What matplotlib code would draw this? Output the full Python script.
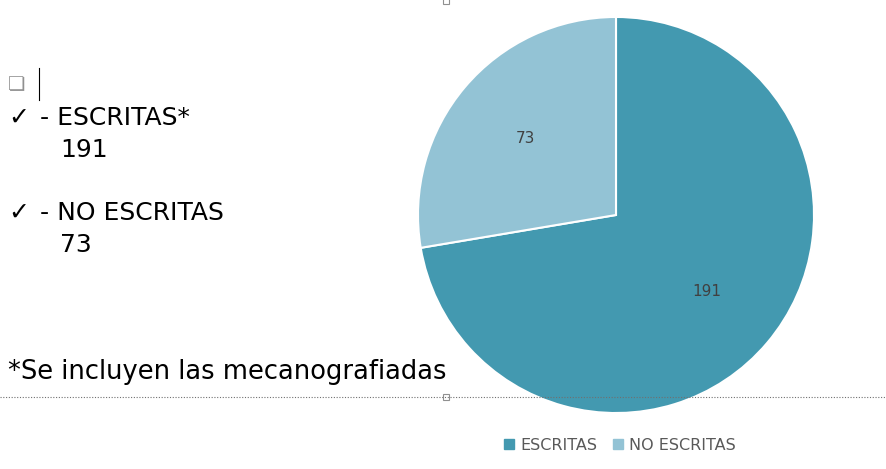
import matplotlib
matplotlib.use("Agg")
import numpy as np
import matplotlib.pyplot as plt
from matplotlib.lines import Line2D
from matplotlib.patches import Rectangle

categories = ["ESCRITAS", "NO ESCRITAS"]
values = [191, 73]
colors = ["#4399B0", "#93C3D5"]

W, H = 887, 469
fig = plt.figure(figsize=(W / 100, H / 100), dpi=100)

# pie: centre ~(616, 215) px, radius ~200 px
ax = fig.add_axes([416 / W, (H - 415) / H, 400 / W, 400 / H])
wedges, texts = ax.pie(values, colors=colors, startangle=90, counterclock=False,
                       wedgeprops=dict(edgecolor="white", linewidth=1.5))
for w, v in zip(wedges, values):
    ang = np.deg2rad((w.theta1 + w.theta2) / 2)
    ax.text(0.6 * np.cos(ang), 0.6 * np.sin(ang), str(v), ha="center", va="center",
            fontsize=11, color="#404040")
ax.set_xlim(-1.01, 1.01)
ax.set_ylim(-1.01, 1.01)
ax.set_aspect("equal")

def px(x, y):
    return x / W, 1 - y / H

txt = dict(fontsize=18, color="black", va="center", family="DejaVu Sans")
fig.text(*px(8, 85), "\u274f", fontsize=14, color="#909090", va="center")
fig.add_artist(Line2D([39 / W, 39 / W], [1 - 68 / H, 1 - 100 / H], color="black", lw=0.8))
fig.text(*px(8, 118), "\u2713", **txt)
fig.text(*px(40, 118), "- ESCRITAS*", **txt)
fig.text(*px(60, 150), "191", **txt)
fig.text(*px(8, 213), "\u2713", **txt)
fig.text(*px(40, 213), "- NO ESCRITAS", **txt)
fig.text(*px(60, 245), "73", **txt)
fig.text(*px(8, 372), "*Se incluyen las mecanografiadas", fontsize=18.5,
         color="black", va="center")

# dotted selection border and handles
fig.add_artist(Line2D([0, 1], [1 - 397 / H] * 2, color="#707070", lw=0.8, ls=(0, (1, 1.5))))
for yy in (1, 397):
    fig.add_artist(Rectangle(((446 - 3) / W, 1 - (yy + 3) / H), 6 / W, 6 / H,
                             facecolor="white", edgecolor="#909090", lw=0.8))

handles = [Rectangle((0, 0), 1, 1, color=c) for c in colors]
fig.legend(handles, categories, loc="center", bbox_to_anchor=(620 / W, 1 - 445 / H),
           ncol=2, frameon=False, fontsize=11.5, handlelength=0.6, handleheight=0.6,
           columnspacing=1.0, handletextpad=0.4, labelcolor="#595959")

fig.savefig("out.png", dpi=100)
